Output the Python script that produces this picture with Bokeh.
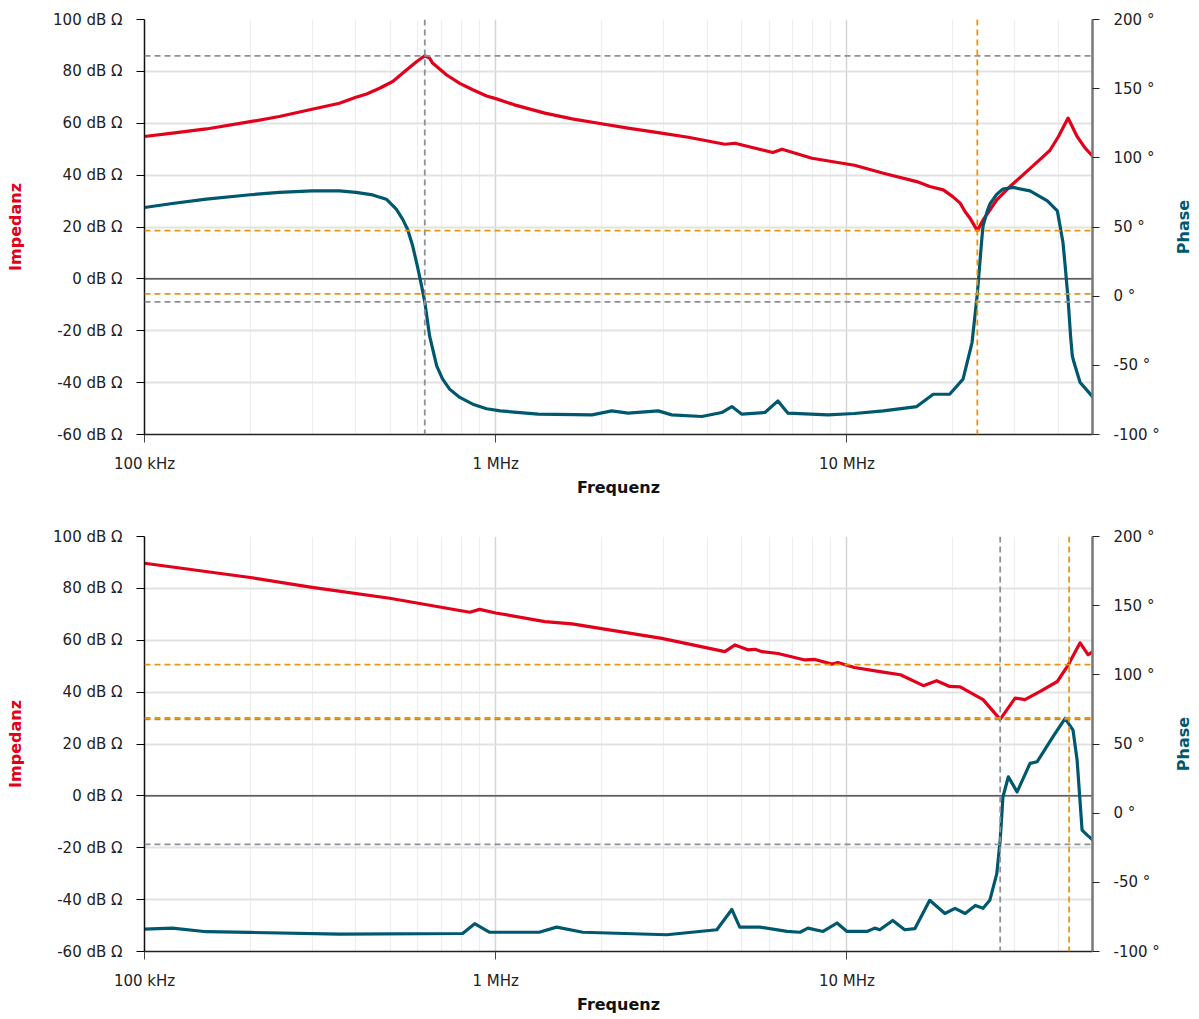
from bokeh.plotting import figure
from bokeh.models import Range1d, LinearAxis, FixedTicker, Span, ColumnDataSource
from bokeh.layouts import column, row
from bokeh.core.properties import value
from bokeh.embed import file_html
from bokeh.resources import INLINE

# ---------------- data (frequencies in MHz) ----------------
top_imp_f = [0.1, 0.12, 0.15, 0.2, 0.242, 0.3, 0.359, 0.4, 0.429, 0.467, 0.509, 0.558, 0.596,
             0.628, 0.648, 0.661, 0.725, 0.79, 0.86, 0.942, 1.0, 1.13, 1.38, 1.65, 2.0, 2.38,
             2.9, 3.53, 4.49, 4.8, 6.15, 6.53, 7.95, 10.5, 12.7, 15.8, 17.2, 18.8, 20.0, 21.0,
             21.7, 22.4, 23.5, 24.4, 26.7, 29.1, 31.7, 34.7, 37.8, 40.0, 42.6, 45.2, 47.6, 50.2]
top_imp_db = [54.9, 56.2, 57.8, 60.6, 62.6, 65.4, 67.7, 70.0, 71.3, 73.5, 76.1, 80.6, 83.8,
              86.0, 85.1, 83.2, 78.6, 75.4, 72.9, 70.5, 69.5, 67.1, 63.9, 61.7, 59.8, 58.1,
              56.4, 54.6, 51.9, 52.3, 48.7, 50.0, 46.5, 43.8, 40.7, 37.5, 35.6, 34.3, 31.7, 29.2,
              25.9, 23.4, 18.6, 22.7, 30.5, 35.6, 40.1, 44.9, 49.5, 54.9, 62.0, 54.9, 50.5, 47.1]

top_ph_f = [0.1, 0.12, 0.15, 0.2, 0.242, 0.3, 0.359, 0.4, 0.446, 0.488, 0.521, 0.543, 0.561, 0.58,
            0.598, 0.615, 0.628, 0.648, 0.679, 0.706, 0.739, 0.79, 0.86, 0.942, 1.03, 1.32, 1.88,
            2.14, 2.38, 2.9, 3.17, 3.86, 4.4, 4.7, 5.02, 5.84, 6.36, 6.79, 8.83, 10.5, 12.7,
            15.8, 17.6, 19.6, 21.4, 22.7, 23.5, 24.2, 24.4, 25.1, 25.5, 26.7, 27.8, 29.7, 33.2,
            37.2, 39.7, 40.1, 41.2, 41.8, 42.6, 43.3, 43.8, 44.3, 46.1, 47.5, 50.2]
top_ph_deg = [64.1, 67.0, 70.1, 73.3, 75.0, 76.1, 76.1, 75.0, 73.2, 70.1, 62.9, 55.7, 48.4, 36.4,
              21.9, 7.5, -4.1, -28.7, -50.4, -60.0, -67.2, -73.2, -78.1, -81.4, -82.9, -85.3,
              -85.8, -82.9, -84.6, -82.9, -85.8, -87.0, -84.1, -79.8, -85.3, -84.1, -75.7, -84.6,
              -85.8, -84.8, -82.9, -79.8, -70.9, -70.9, -60.0, -33.5, 1.7, 41.2, 50.8, 61.7,
              66.5, 73.7, 77.4, 78.6, 76.1, 68.9, 61.7, 55.7, 38.8, 21.9, -2.2, -28.7, -43.2,
              -48.0, -62.4, -66.1, -73.2]

top_mark_f = [0.628, 23.5]
top_mark_db = [86.0, 18.6]
top_mark_deg = [-4.1, 1.7]

bot_imp_f = [0.1, 0.2, 0.3, 0.499, 0.843, 0.9, 1.0, 1.38, 1.65, 2.97, 4.49, 4.8, 5.22, 5.47, 5.73,
             6.36, 7.59, 8.11, 9.06, 9.42, 10.5, 12.4, 14.2, 16.5, 18.0, 19.6, 21.0, 24.4, 27.3,
             30.1, 32.1, 35.5, 39.7, 42.4, 46.1, 48.6, 50.2]
bot_imp_db = [89.7, 84.2, 80.4, 76.2, 70.8, 71.9, 70.5, 67.2, 66.3, 60.7, 55.6, 58.2, 56.3, 56.5,
              55.6, 54.9, 52.4, 52.6, 50.8, 51.4, 49.5, 47.9, 46.7, 42.5, 44.4, 42.2, 42.0, 37.1,
              29.5, 37.7, 37.1, 40.3, 44.1, 49.9, 59.0, 54.4, 55.7]

bot_ph_f = [0.1, 0.12, 0.15, 0.2, 0.359, 0.805, 0.871, 0.961, 1.33, 1.49, 1.77, 3.07, 4.26, 4.7,
            4.95, 5.65, 6.75, 7.35, 7.74, 8.55, 9.37, 10.0, 11.4, 12.0, 12.4, 13.5, 14.6, 15.6,
            17.2, 19.0, 20.3, 21.7, 23.2, 24.4, 25.5, 26.7, 27.3, 27.8, 28.8, 30.5, 33.2, 34.8,
            38.6, 41.8, 44.0, 45.2, 46.7, 48.3, 50.2]
bot_ph_deg = [-83.8, -83.1, -85.7, -86.2, -87.4, -87.0, -79.9, -86.1, -86.1, -82.4, -86.1, -87.9,
              -84.3, -69.6, -82.4, -82.4, -85.5, -86.1, -83.1, -85.5, -79.4, -85.5, -85.5, -83.1,
              -84.3, -77.6, -84.3, -83.5, -63.0, -72.5, -68.8, -72.5, -66.7, -68.8, -63.0, -43.7,
              -19.6, 11.8, 26.3, 15.4, 36.0, 37.2, 55.3, 68.6, 60.1, 38.4, -12.3, -15.9, -19.6]

bot_mark_f = [27.3, 42.9]
bot_mark_db = [29.5, 50.6]
bot_mark_deg = [-22.5, 68.8]

x_ticks = [1e5, 1e6, 1e7]
x_tick_labels = ["100 kHz", "1 MHz", "10 MHz"]
x_minor = [m * d for d in (1e5, 1e6, 1e7) for m in range(2, 10) if m * d <= 5e7]
db_ticks = [-60, -40, -20, 0, 20, 40, 60, 80, 100]
deg_ticks = [-100, -50, 0, 50, 100, 150, 200]

# ---------------- style ----------------
RED = "#e2001a"
TEAL = "#00586f"
ORANGE = "#e8950f"
GREY = "#8a9199"
MARK_COLORS = [GREY, ORANGE]
FONT = "DejaVu Sans"
FRAME_W = 948
FRAME_H = 415


def build(imp_f, imp_db, ph_f, ph_deg, mk_f, mk_db, mk_deg, top_b, bottom_b):
    p = figure(frame_width=FRAME_W, frame_height=FRAME_H, x_axis_type="log",
               x_range=Range1d(1e5, 5e7), y_range=Range1d(-60, 100),
               output_backend="svg", toolbar_location=None,
               min_border_left=144, min_border_right=77,
               min_border_top=top_b, min_border_bottom=bottom_b,
               outline_line_color=None, background_fill_color="white")
    p.extra_y_ranges = {"phase": Range1d(-100, 200)}

    # x axis
    xa = p.xaxis[0]
    xa.ticker = FixedTicker(ticks=x_ticks, minor_ticks=x_minor)
    xa.major_label_overrides = {t: l for t, l in zip(x_ticks, x_tick_labels)}
    xa.axis_label = "Frequenz"
    xa.axis_label_text_font = FONT
    xa.axis_label_text_font_style = "bold"
    xa.axis_label_text_font_size = "16px"
    xa.axis_label_text_color = "#111111"
    xa.axis_label_standoff = 2
    xa.major_label_text_font = FONT
    xa.major_label_text_font_size = "15px"
    xa.major_label_text_color = "#222222"
    xa.major_label_standoff = 12
    xa.major_tick_out = 8
    xa.major_tick_in = 0
    xa.minor_tick_line_color = None
    xa.axis_line_color = "#222222"
    xa.axis_line_width = 1.5
    xa.major_tick_line_color = "#444444"

    p.xgrid.ticker = xa.ticker
    p.xgrid.grid_line_color = "#d4d4d4"
    p.xgrid.grid_line_width = 1.5
    p.xgrid.minor_grid_line_color = "#eeeeee"
    p.xgrid.minor_grid_line_width = 1.2

    # left axis (impedance)
    ya = p.yaxis[0]
    ya.ticker = FixedTicker(ticks=db_ticks)
    ya.major_label_overrides = {t: f"{t} dB \u03a9" for t in db_ticks}
    ya.axis_label = "Impedanz"
    ya.axis_label_text_color = RED
    ya.axis_label_text_font = FONT
    ya.axis_label_text_font_style = "bold"
    ya.axis_label_text_font_size = "16px"
    ya.axis_label_standoff = 25
    ya.major_label_text_font = FONT
    ya.major_label_text_font_size = "15px"
    ya.major_label_text_color = "#222222"
    ya.major_label_standoff = 14
    ya.major_tick_out = 8
    ya.major_tick_in = 0
    ya.minor_tick_line_color = None
    ya.axis_line_color = "#111111"
    ya.axis_line_width = 1.5

    p.ygrid.ticker = ya.ticker
    p.ygrid.grid_line_color = "#e2e2e2"
    p.ygrid.grid_line_width = 2

    # right axis (phase)
    ra = LinearAxis(y_range_name="phase", ticker=FixedTicker(ticks=deg_ticks))
    ra.major_label_overrides = {t: f"{t} \u00b0" for t in deg_ticks}
    ra.major_label_text_font = FONT
    ra.major_label_text_font_size = "15px"
    ra.major_label_text_color = "#222222"
    ra.major_label_standoff = 14
    ra.major_tick_out = 7
    ra.major_tick_in = 0
    ra.minor_tick_line_color = None
    ra.axis_line_color = "#777777"
    ra.axis_line_width = 2.5
    ra.major_tick_line_color = "#222222"
    p.add_layout(ra, "right")

    # zero line
    p.add_layout(Span(location=0, dimension="width", line_color="#333333",
                      line_width=1.3, level="underlay"))

    # curves
    src_imp = ColumnDataSource(dict(f=[v * 1e6 for v in imp_f], v=imp_db))
    src_ph = ColumnDataSource(dict(f=[v * 1e6 for v in ph_f], v=ph_deg))
    p.line(x="f", y="v", source=src_imp, line_color=RED, line_width=3.2, line_join="round")
    p.line(x="f", y="v", source=src_ph, line_color=TEAL, line_width=3.2, line_join="round",
           y_range_name="phase")

    # marker lines
    for f, db, deg, c in zip(mk_f, mk_db, mk_deg, MARK_COLORS):
        p.add_layout(Span(location=f * 1e6, dimension="height", line_color=c,
                          line_dash="6 4", line_width=1.8))
        p.add_layout(Span(location=db, dimension="width", line_color=c,
                          line_dash="6 4", line_width=1.8))
        p.add_layout(Span(location=deg, dimension="width", line_color=c,
                          line_dash="6 4", line_width=1.8, y_range_name="phase"))
    return p


def side_title(top_b, bottom_b):
    # narrow strip carrying the right-hand axis title "Phase", reading bottom to top
    s = figure(frame_width=28, frame_height=FRAME_H, x_range=Range1d(0, 1),
               y_range=Range1d(0, 1), x_axis_location=None, y_axis_location=None,
               output_backend="svg", toolbar_location=None,
               min_border_left=0, min_border_right=0,
               min_border_top=top_b, min_border_bottom=bottom_b,
               outline_line_color=None)
    s.xgrid.visible = False
    s.ygrid.visible = False
    s.text(x=[0.5], y=[0.5], text=["Phase"], angle=90, angle_units="deg",
           text_align="center", text_baseline="middle", text_font=value(FONT),
           text_font_style="bold", text_font_size="16px", text_color=TEAL)
    return s


p1 = build(top_imp_f, top_imp_db, top_ph_f, top_ph_deg, top_mark_f, top_mark_db, top_mark_deg,
           19, 90)
p2 = build(bot_imp_f, bot_imp_db, bot_ph_f, bot_ph_deg, bot_mark_f, bot_mark_db, bot_mark_deg,
           12, 64)
s1 = side_title(19, 90)
s2 = side_title(12, 64)

layout = column(row(p1, s1, spacing=0), row(p2, s2, spacing=0), spacing=0)
open("out.html", "w").write(file_html(layout, INLINE))
